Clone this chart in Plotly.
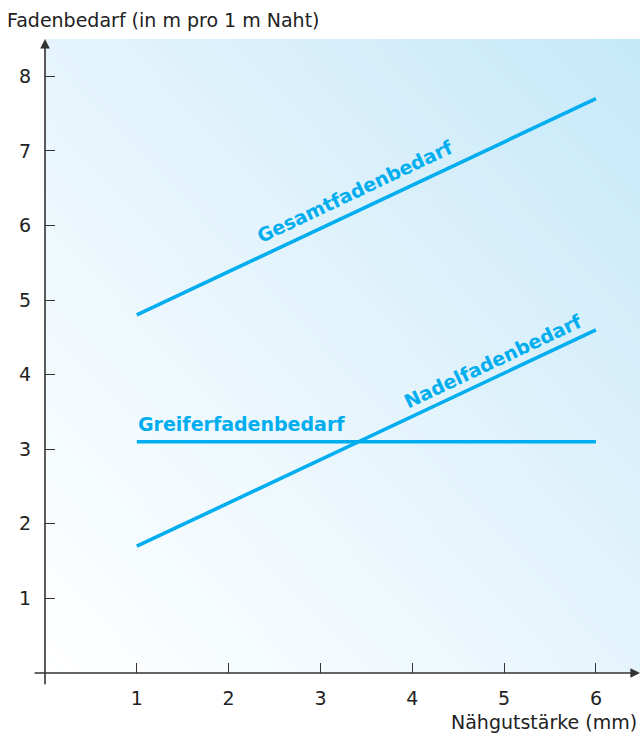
import plotly.graph_objects as go
import numpy as np

x_vals = [1, 6]
gesamt = [4.8, 7.7]
nadel = [1.7, 4.6]
greifer = [3.1, 3.1]
x_ticks = [1, 2, 3, 4, 5, 6]
y_ticks = [1, 2, 3, 4, 5, 6, 7, 8]

XMAX, YMAX = 6.48, 8.5
LINE_C = "#00aeef"
AX_C = "#333333"
FONT = "DejaVu Sans"
BFONT = "DejaVu Sans"
PW, PH = 595, 634  # plot area in px

fig = go.Figure()

# background gradient
gx = np.linspace(-0.2, XMAX + 0.2, 30)
gy = np.linspace(-0.2, YMAX + 0.2, 30)
GX, GY = np.meshgrid(gx, gy)
Z = GX / XMAX + GY / YMAX
fig.add_trace(go.Heatmap(x=gx, y=gy, z=Z, zsmooth="best", showscale=False,
                         hoverinfo="skip", zmin=0, zmax=2,
                         colorscale=[[0, "#ffffff"], [0.35, "#eef8fd"], [1, "#c6e8f9"]]))

for ys in (gesamt, nadel, greifer):
    fig.add_trace(go.Scatter(x=x_vals, y=ys, mode="lines",
                             line=dict(color=LINE_C, width=3.6),
                             hoverinfo="skip", showlegend=False))

ang = -25.3
lab_font = dict(family=BFONT, size=19, color=LINE_C)
fig.add_annotation(x=3.38, y=6.46, text="<b>Gesamtfadenbedarf</b>", showarrow=False,
                   textangle=ang, font=lab_font)
fig.add_annotation(x=4.88, y=4.18, text="<b>Nadelfadenbedarf</b>", showarrow=False,
                   textangle=ang, font=lab_font)
fig.add_annotation(x=0.99, y=3.34, text="<b>Greiferfadenbedarf</b>", showarrow=False,
                   xanchor="left", font=lab_font)

# axes with arrows
fig.add_annotation(x=0, y=YMAX, ax=0, ay=-0.17, xref="x", yref="y", axref="x", ayref="y",
                   text="", showarrow=True, arrowhead=2, arrowsize=1.2, arrowwidth=1.6,
                   arrowcolor=AX_C)
fig.add_annotation(x=XMAX, y=0, ax=-0.13, ay=0, xref="x", yref="y", axref="x", ayref="y",
                   text="", showarrow=True, arrowhead=2, arrowsize=1.2, arrowwidth=1.6,
                   arrowcolor=AX_C)

# axis titles
fig.add_annotation(x=-40 / PW, y=1 + 19 / PH, xref="paper", yref="paper",
                   text="Fadenbedarf (in m pro 1 m Naht)", showarrow=False,
                   xanchor="left", yanchor="middle",
                   font=dict(family=FONT, size=19, color="#222"))
fig.add_annotation(x=1 + (-1) / PW, y=-49 / PH, xref="paper", yref="paper",
                   text="Nähgutstärke (mm)", showarrow=False,
                   xanchor="right", yanchor="middle",
                   font=dict(family=FONT, size=19, color="#222"))

fig.update_layout(
    width=640, height=737,
    margin=dict(l=45, r=0, t=39, b=64),
    paper_bgcolor="white", plot_bgcolor="white",
    showlegend=False,
    font=dict(family=FONT, size=17, color="#222"),
    xaxis=dict(range=[0, XMAX], tickvals=x_ticks, ticks="inside", ticklen=10,
               tickcolor=AX_C, tickwidth=1.3, showgrid=False, zeroline=False,
               showline=False, ticklabelstandoff=12,
               tickfont=dict(family=FONT, size=19, color="#222")),
    yaxis=dict(range=[0, YMAX], tickvals=y_ticks, ticks="inside", ticklen=10,
               tickcolor=AX_C, tickwidth=1.3, showgrid=False, zeroline=False,
               showline=False, ticklabelstandoff=13,
               tickfont=dict(family=FONT, size=19, color="#222")),
)

fig.write_html("out.html")
